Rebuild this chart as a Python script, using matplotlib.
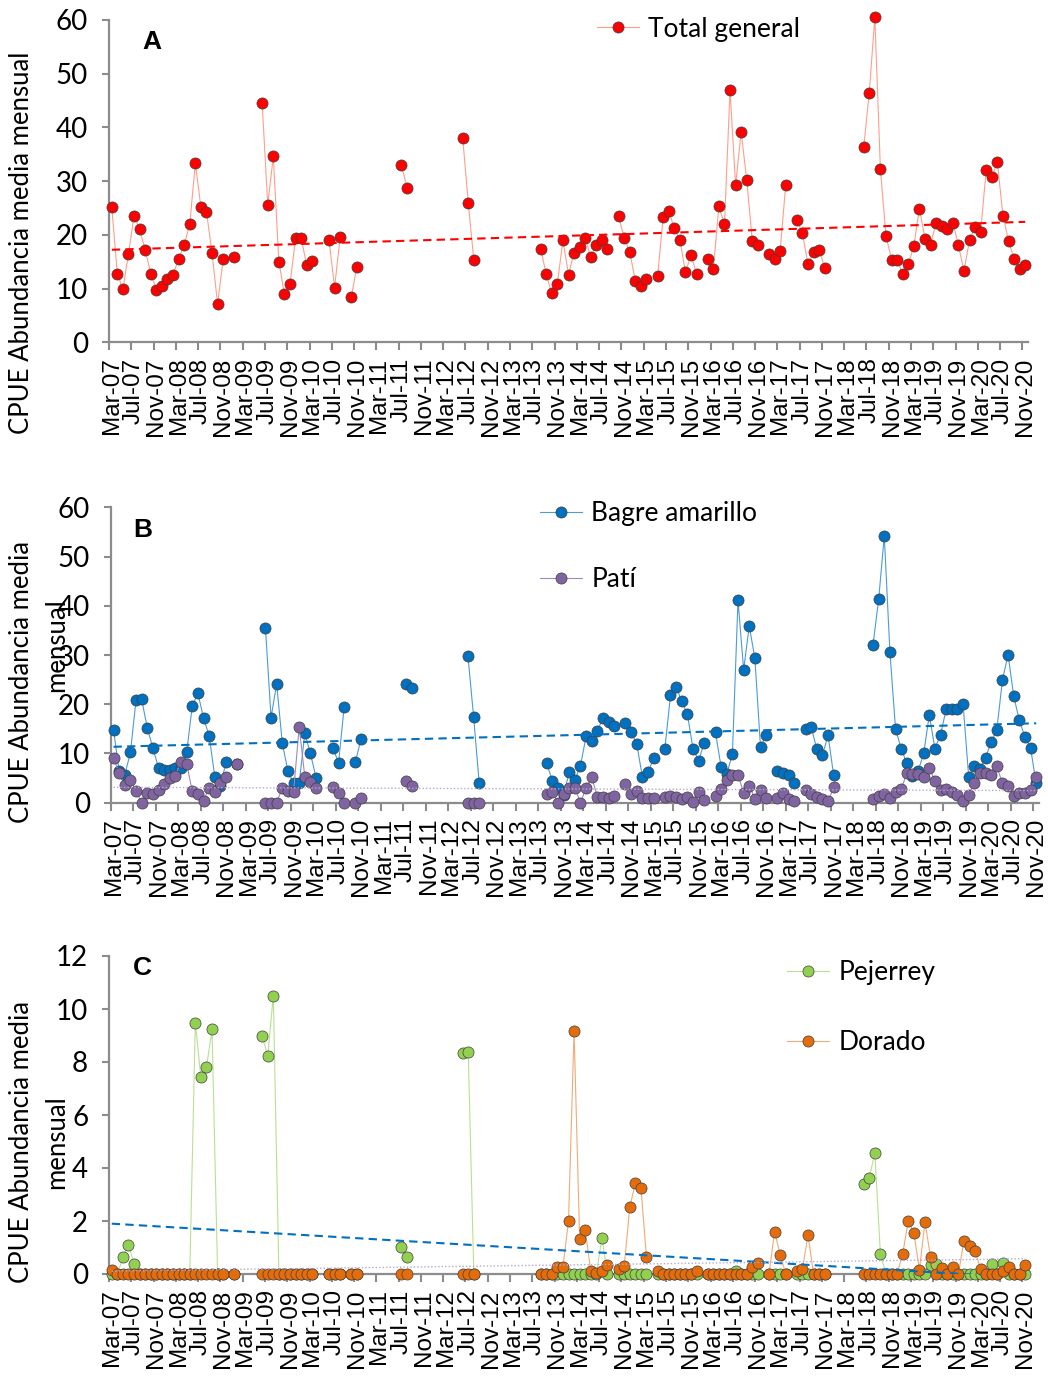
import numpy as np
import pandas as pd
import matplotlib
matplotlib.use("Agg")
import matplotlib.pyplot as plt

nan = np.nan

# eje de categorias: todos los meses Mar-07 .. Nov-20
meses = pd.period_range("2007-03", "2020-11", freq="M")

# meses con muestreo (bloques consecutivos inicio-fin)
bloques = [("2007-03", "2008-11"), ("2009-01", "2009-01"), ("2009-06", "2010-03"),
           ("2010-06", "2010-08"), ("2010-10", "2010-11"), ("2011-07", "2011-08"),
           ("2012-06", "2012-08"), ("2013-08", "2014-08"), ("2014-10", "2015-03"),
           ("2015-05", "2015-12"), ("2016-02", "2016-11"), ("2017-01", "2017-04"),
           ("2017-06", "2017-11"), ("2018-06", "2020-11")]

total_general = [25.1, 12.7, 9.9, 16.5, 23.6, 21.0, 17.2, 12.8, 9.8, 10.5, 11.8, 12.6, 15.5, 18.1, 22.0, 33.4, 25.1, 24.3, 16.6, 7.1, 15.6,
                 15.8,
                 44.5, 25.6, 34.6, 15.0, 8.9, 10.9, 19.4, 19.4, 14.3, 15.1,
                 19.0, 10.2, 19.6,
                 8.4, 14.1,
                 33.0, 28.8,
                 38.1, 26.0, 15.3,
                 17.4, 12.7, 9.1, 10.9, 19.0, 12.6, 16.7, 17.7, 19.5, 15.8, 18.2, 19.0, 17.4,
                 23.5, 19.4, 16.8, 11.4, 10.5, 11.8,
                 12.3, 23.4, 24.5, 21.2, 19.1, 13.0, 16.3, 12.8,
                 15.6, 13.6, 25.3, 22.0, 46.9, 29.2, 39.2, 30.2, 18.9, 18.1,
                 16.4, 15.5, 17.0, 29.3,
                 22.8, 20.3, 14.5, 16.8, 17.2, 13.9,
                 36.3, 46.5, 60.5, 32.2, 19.8, 15.4, 15.4, 12.7, 14.5, 17.9, 24.9, 19.3, 18.2, 22.3, 21.7,
                 21.0, 22.3, 18.1, 13.3, 19.0, 21.5, 20.6, 32.1, 30.8, 33.5, 23.6, 18.9, 15.5, 13.6, 14.3]

bagre = [14.8, 6.4, 5.6, 10.2, 20.8, 21.0, 15.2, 11.1, 7.1, 6.6, 6.7, 7.1, 7.1, 10.2, 19.7, 22.2, 17.2, 13.6, 5.3, 3.3, 8.3,
         7.8,
         35.5, 17.3, 24.1, 12.1, 6.4, 3.9, 3.9, 14.1, 10.0, 5.1,
         11.1, 8.1, 19.5,
         8.3, 13.0,
         24.1, 23.3,
         29.8, 17.5, 4.0,
         8.0, 4.5, 3.0, 1.5, 6.3, 4.6, 7.5, 13.5, 12.5, 14.6, 17.2, 16.4, 15.5,
         16.2, 14.4, 11.9, 5.3, 6.2, 9.0,
         11.0, 21.8, 23.6, 20.6, 18.0, 11.0, 8.5, 12.2,
         14.3, 7.2, 5.9, 9.8, 41.1, 27.0, 35.9, 29.3, 11.3, 13.7,
         6.4, 6.0, 5.6, 3.9,
         14.9, 15.4, 10.9, 9.6, 13.7, 5.6,
         32.1, 41.3, 54.2, 30.6, 15.0, 11.0, 8.0, 5.4, 6.4, 10.0, 17.8, 11.0, 13.8, 19.0, 19.1,
         19.1, 20.1, 5.3, 7.5, 6.9, 9.1, 12.3, 14.8, 24.9, 30.1, 21.7, 16.7, 13.4, 11.1, 3.9]

pati = [9.1, 6.1, 3.5, 4.7, 2.3, 0.0, 2.0, 1.7, 2.6, 3.7, 5.0, 5.5, 8.3, 7.9, 2.3, 1.7, 0.4, 3.0, 2.2, 3.9, 5.2,
        7.9,
        0.0, 0.0, 0.0, 3.0, 2.3, 2.2, 15.4, 5.3, 4.2, 3.0,
        3.2, 2.0, 0.0,
        0.0, 0.9,
        4.4, 3.3,
        0.0, 0.0, 0.0,
        1.8, 2.2, 0.0, 1.7, 3.0, 3.0, 0.0, 3.0, 5.2, 1.2, 1.1, 0.9, 1.3,
        3.8, 1.7, 2.4, 1.0, 1.0, 1.0,
        1.1, 1.4, 1.1, 0.8, 1.1, 0.2, 2.2, 0.6,
        1.3, 2.7, 4.7, 5.6, 5.7, 2.0, 3.4, 0.8, 2.6, 0.9,
        0.9, 2.0, 0.8, 0.3,
        2.6, 1.7, 1.1, 0.8, 0.3, 3.1,
        0.8, 1.4, 1.7, 0.9, 2.2, 2.7, 6.0, 5.9, 5.9, 5.2, 7.1, 4.4, 2.6, 2.8, 2.2,
        1.6, 0.4, 1.6, 3.9, 6.1, 6.1, 5.6, 7.4, 3.9, 3.3, 1.4, 1.9, 2.0, 2.6, 5.3]

pejerrey = [0.0, 0.0, 0.63, 1.1, 0.38, 0.0, 0.0, 0.0, 0.0, 0.0, 0.0, 0.0, 0.0, 0.0, 0.0, 9.47, 7.42, 7.81, 9.23, 0.0, 0.0,
            0.0,
            8.99, 8.24, 10.5, 0.0, 0.0, 0.0, 0.0, 0.0, 0.0, 0.0,
            0.0, 0.0, 0.0,
            0.0, 0.0,
            1.02, 0.64,
            8.35, 8.38, 0.0,
            0.0, 0.0, 0.0, 0.0, 0.0, 0.0, 0.0, 0.0, 0.0, 0.0, 0.0, 1.37, 0.0,
            0.0, 0.0, 0.0, 0.0, 0.0, 0.0,
            0.0, 0.0, 0.0, 0.0, 0.0, 0.0, 0.0, 0.0,
            0.0, 0.0, 0.0, 0.0, 0.0, 0.1, 0.0, 0.0, 0.0, 0.0,
            0.0, 0.0, 0.0, 0.0,
            0.0, 0.0, 0.0, 0.0, 0.0, 0.0,
            3.41, 3.62, 4.57, 0.75, 0.0, 0.0, 0.0, 0.0, 0.0, 0.0, 0.0, 0.0, 0.34, 0.38, 0.0,
            0.0, 0.0, 0.0, 0.0, 0.0, 0.0, 0.0, 0.0, 0.38, 0.0, 0.4, 0.0, 0.0, 0.0, 0.0]

dorado = [0.15, 0.0, 0.0, 0.0, 0.0, 0.0, 0.0, 0.0, 0.0, 0.0, 0.0, 0.0, 0.0, 0.0, 0.0, 0.0, 0.0, 0.0, 0.0, 0.0, 0.0,
          0.0,
          0.0, 0.0, 0.0, 0.0, 0.0, 0.0, 0.0, 0.0, 0.0, 0.0,
          0.0, 0.0, 0.0,
          0.0, 0.0,
          0.0, 0.0,
          0.0, 0.0, 0.0,
          0.0, 0.0, 0.0, 0.25, 0.25, 2.0, 9.17, 1.31, 1.67, 0.1, 0.05, 0.12, 0.34,
          0.19, 0.3, 2.52, 3.43, 3.26, 0.65,
          0.1, 0.0, 0.0, 0.0, 0.0, 0.0, 0.0, 0.1,
          0.0, 0.0, 0.0, 0.0, 0.0, 0.0, 0.0, 0.0, 0.28, 0.43,
          0.0, 1.6, 0.73, 0.0,
          0.13, 0.19, 1.48, 0.0, 0.0, 0.0,
          0.0, 0.0, 0.0, 0.0, 0.0, 0.0, 0.0, 0.75, 2.0, 1.56, 0.16, 1.96, 0.65, 0.0, 0.21,
          0.0, 0.25, 0.0, 1.26, 1.06, 0.86, 0.2, 0.0, 0.0, 0.0, 0.1, 0.26, 0.0, 0.0, 0.33]

muestreados = pd.PeriodIndex(np.concatenate(
    [pd.period_range(a, b, freq="M").astype(str) for a, b in bloques]), freq="M")


def serie(valores):
    s = pd.Series(nan, index=meses)
    s[muestreados] = valores
    return s.values


x = np.arange(len(meses))
etiquetas = [p.strftime("%b-%y") for p in meses[::4]]

TXT = ["Lato", "DejaVu Sans"]
GRIS = "#8c8c8c"


def tendencia(ax, y, color, ls, lw):
    ok = ~np.isnan(y)
    a, b = np.polyfit(x[ok], y[ok], 1)
    ax.plot(x, a * x + b, color=color, ls=ls, lw=lw, zorder=4)


def serie_plot(ax, y, face, linea, label):
    # los marcadores no se recortan en el borde (como en Excel)
    ax.plot(x, y, "-o", color=linea, lw=0.8, ms=8, mfc=face, mec="#404040",
            mew=0.5, label=label, zorder=3, clip_on=False)


def formato(ax, ymax, paso):
    ax.set_xlim(-0.5, len(meses) - 0.5)
    ax.set_ylim(0, ymax)
    ax.set_yticks(np.arange(0, ymax + 0.1, paso))
    ax.set_yticklabels([f"{v:g}" for v in np.arange(0, ymax + 0.1, paso)],
                       family=TXT, fontsize=20)
    ax.set_xticks(np.arange(-0.5, len(meses) - 1, 4))
    ax.set_xticklabels([])
    ax.set_xticks(x[::4], minor=True)
    ax.set_xticklabels(etiquetas, minor=True, rotation=90,
                       family=["Liberation Sans"], fontsize=17.5)
    ax.tick_params(axis="x", which="major", length=6, width=1.5, color=GRIS)
    ax.tick_params(axis="x", which="minor", length=0, pad=11)
    ax.tick_params(axis="y", length=5, width=1.5, color=GRIS, pad=10)
    for s in ["top", "right"]:
        ax.spines[s].set_visible(False)
    for s in ["left", "bottom"]:
        ax.spines[s].set_color(GRIS)
        ax.spines[s].set_linewidth(1.6)


fig = plt.figure(figsize=(10.48, 13.93), dpi=100)
H = 1393.0
W = 1048.0


def eje(x0, x1, ytop, ybot):
    return fig.add_axes([x0 / W, 1 - ybot / H, (x1 - x0) / W, (ybot - ytop) / H])


axA = eje(109, 1028, 20, 342.3)
axB = eje(110.7, 1039, 507.3, 802.7)
axC = eje(109, 1028, 956, 1274)

# --- A
yA = serie(total_general)
serie_plot(axA, yA, "#FF0000", "#FF9F8A", "Total general")
tendencia(axA, yA, "#FF0000", (0, (4, 2.5)), 1.5)
formato(axA, 60, 10)
axA.legend(loc="center left", bbox_to_anchor=(597 / W, 1 - 29 / H),
           bbox_transform=fig.transFigure, frameon=False, prop={"family": TXT, "size": 19},
           handlelength=1.6, handletextpad=0.35, borderpad=0, borderaxespad=0)

# --- B
yB1 = serie(bagre)
yB2 = serie(pati)
serie_plot(axB, yB1, "#0070C0", "#4B9BDA", "Bagre amarillo")
serie_plot(axB, yB2, "#8064A2", "#9D88C0", "Patí")
tendencia(axB, yB1, "#0070C0", (0, (4, 2.5)), 1.5)
tendencia(axB, yB2, "#B7A8D0", (0, (1, 1.5)), 1.0)
formato(axB, 60, 10)
axB.legend(loc="center left", bbox_to_anchor=(540 / W, 1 - 546.5 / H),
           bbox_transform=fig.transFigure, frameon=False, prop={"family": TXT, "size": 19},
           handlelength=1.6, handletextpad=0.35, borderpad=0, borderaxespad=0,
           labelspacing=1.55)

# --- C
yC1 = serie(pejerrey)
yC2 = serie(dorado)
serie_plot(axC, yC1, "#92D050", "#B9E092", "Pejerrey")
serie_plot(axC, yC2, "#E46C0A", "#F2AA78", "Dorado")
tendencia(axC, yC1, "#0070C0", (0, (4, 2.5)), 1.5)
tendencia(axC, yC2, "#B7A8D0", (0, (1, 1.5)), 1.0)
formato(axC, 12, 2)
axC.legend(loc="center left", bbox_to_anchor=(787 / W, 1 - 1007.5 / H),
           bbox_transform=fig.transFigure, frameon=False, prop={"family": TXT, "size": 19},
           handlelength=1.6, handletextpad=0.35, borderpad=0, borderaxespad=0,
           labelspacing=1.7)

# letras de panel
for letra, (px, py) in zip("ABC", [(152, 42), (143, 530), (142, 968)]):
    fig.text(px / W, 1 - py / H, letra, fontsize=19, fontweight="bold",
             family=["Liberation Sans"], ha="center", va="center")

# titulos de eje Y (en B y C el titulo se parte en dos lineas, como en el original)
fig.text(22 / W, 1 - 243 / H, "CPUE Abundancia media mensual", rotation=90,
         family=TXT, fontsize=18.5, ha="center", va="center")
for yc1, yc2 in [(682, 645), (1142, 1142)]:
    fig.text(22 / W, 1 - yc1 / H, "CPUE Abundancia media", rotation=90,
             family=TXT, fontsize=18.5, ha="center", va="center")
    fig.text(57 / W, 1 - yc2 / H, "mensual", rotation=90,
             family=TXT, fontsize=18.5, ha="center", va="center")

fig.savefig("out.png", dpi=100)
